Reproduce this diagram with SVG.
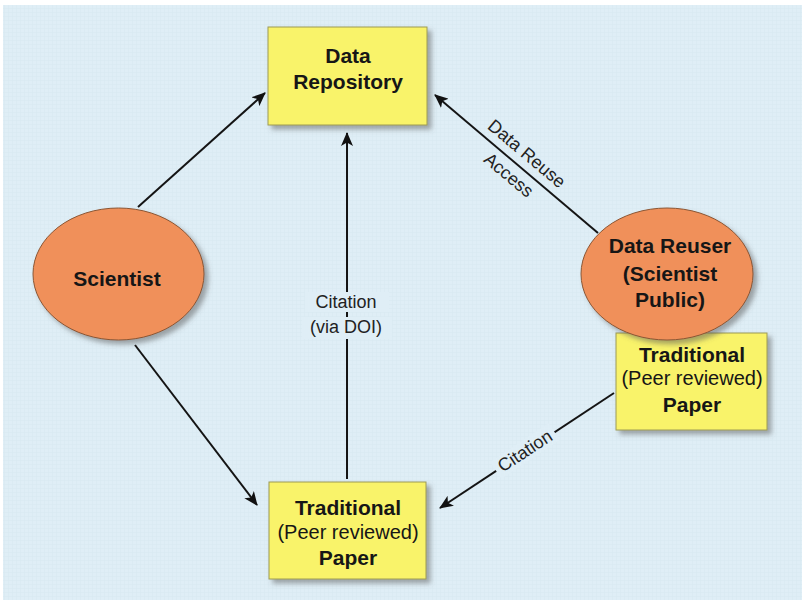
<svg xmlns="http://www.w3.org/2000/svg" width="805" height="605" viewBox="0 0 805 605">
<defs>
<pattern id="grid" width="4" height="4" patternUnits="userSpaceOnUse">
<rect width="4" height="4" fill="#dfeef6"/>
<path d="M0,0.5 H4 M0.5,0 V4" stroke="#d7e8f1" stroke-width="0.5"/>
</pattern>
<filter id="sh" x="-10%" y="-10%" width="130%" height="130%">
<feDropShadow dx="4" dy="4" stdDeviation="2.5" flood-color="#555" flood-opacity="0.5"/>
</filter>
<marker id="ah" viewBox="0 0 14 12" refX="13" refY="6" markerWidth="14" markerHeight="12" markerUnits="userSpaceOnUse" orient="auto">
<path d="M0,0 L14,6 L0,12 L3.5,6 z" fill="#111"/>
</marker>
</defs>
<style>
.box{fill:#f9f36b;stroke:#9c9a55;stroke-width:1;filter:url(#sh)}
.ell{fill:#f0905a;stroke:#8a5634;stroke-width:1;filter:url(#sh)}
.b{font-family:"Liberation Sans",Arial,sans-serif;font-weight:bold;font-size:21px;fill:#161616;text-anchor:middle}
.r{font-family:"Liberation Sans",Arial,sans-serif;font-size:20px;fill:#161616;text-anchor:middle}
.lbl{font-family:"Liberation Sans",Arial,sans-serif;font-size:18px;fill:#222;text-anchor:middle}
.con{stroke:#141414;stroke-width:2;fill:none}
</style>
<rect x="0" y="0" width="805" height="605" fill="#ffffff"/>
<rect x="3" y="5" width="799" height="595" fill="url(#grid)"/>

<g id="connectors">
<line class="con" x1="138" y1="207" x2="265" y2="93" marker-end="url(#ah)"/>
<line class="con" x1="135" y1="345" x2="257" y2="505" marker-end="url(#ah)"/>
<line class="con" x1="347" y1="479" x2="347" y2="133" marker-end="url(#ah)"/>
<rect x="305" y="292" width="84" height="20" fill="#dfeef6"/>
<rect x="302" y="317" width="90" height="22" fill="#dfeef6"/>
<text class="lbl" x="346" y="308">Citation</text>
<text class="lbl" x="346" y="333">(via DOI)</text>
<line class="con" x1="598" y1="233" x2="435" y2="95" marker-end="url(#ah)"/>
<g transform="translate(435,95) rotate(40)">
<text class="lbl" x="108" y="-8">Data Reuse</text>
<text class="lbl" x="108" y="20">Access</text>
</g>
<line class="con" x1="614" y1="393" x2="440" y2="508" marker-end="url(#ah)"/>
<g transform="translate(525,451) rotate(-33.5)">
<rect x="-35" y="-10" width="70" height="20" fill="#dfeef6"/>
<text class="lbl" x="0" y="6">Citation</text>
</g>
</g>

<g id="data-repository">
<rect class="box" x="268" y="27" width="159" height="98"/>
<text class="b" x="348" y="63">Data</text>
<text class="b" x="348" y="89">Repository</text>
</g>

<g id="scientist">
<ellipse class="ell" cx="118.5" cy="274" rx="85.5" ry="66"/>
<text class="b" x="117" y="286">Scientist</text>
</g>

<g id="paper-right">
<rect class="box" x="616" y="333" width="151" height="97"/>
<text class="b" x="692" y="362">Traditional</text>
<text class="r" x="692" y="385">(Peer reviewed)</text>
<text class="b" x="692" y="412">Paper</text>
</g>

<g id="data-reuser">
<ellipse class="ell" cx="667" cy="274" rx="86" ry="66"/>
<text class="b" x="670" y="253">Data Reuser</text>
<text class="b" x="670" y="281">(Scientist</text>
<text class="b" x="670" y="307">Public)</text>
</g>

<g id="paper-bottom">
<rect class="box" x="269" y="482" width="157" height="97"/>
<text class="b" x="348" y="515">Traditional</text>
<text class="r" x="348" y="539">(Peer reviewed)</text>
<text class="b" x="348" y="565">Paper</text>
</g>
</svg>
